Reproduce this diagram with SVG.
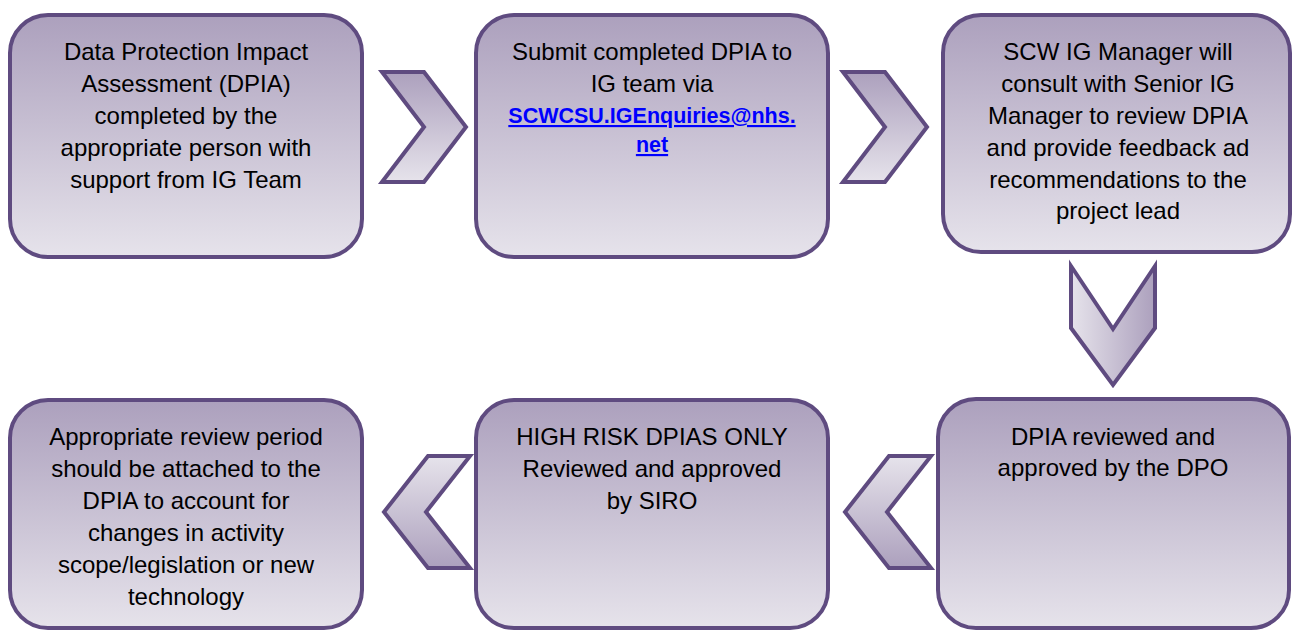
<svg xmlns="http://www.w3.org/2000/svg" width="1292" height="631" viewBox="0 0 1292 631">
  <defs>
    <linearGradient id="gBox" x1="0" y1="0" x2="0" y2="1">
      <stop offset="0" stop-color="#aca0bd"/>
      <stop offset="1" stop-color="#e6e3eb"/>
    </linearGradient>
    <linearGradient id="gUp" x1="0" y1="0" x2="0" y2="1">
      <stop offset="0" stop-color="#e6e3eb"/>
      <stop offset="1" stop-color="#aca0bd"/>
    </linearGradient>
    <linearGradient id="gSide" x1="0" y1="0" x2="1" y2="0">
      <stop offset="0" stop-color="#e6e3eb"/>
      <stop offset="1" stop-color="#aca0bd"/>
    </linearGradient>
    <style>
      .box { fill: url(#gBox); stroke: #5f4b80; stroke-width: 4; }
      .chev { stroke: #5f4b80; stroke-width: 4; stroke-linejoin: miter; }
      .t { font-family: "Liberation Sans", Arial, sans-serif; font-size: 24px; fill: #000; text-anchor: middle; }
      .link { font-family: "Liberation Sans", Arial, sans-serif; font-size: 21.5px; font-weight: bold; fill: #0000ff; text-anchor: middle; text-decoration: underline; }
    </style>
  </defs>

  <!-- connectors: chevron arrows between steps -->
  <g id="connectors">
    <polygon class="chev" fill="url(#gBox)" points="382,72 424,72 466,127 424,182 382,182 424,127"/>
    <polygon class="chev" fill="url(#gBox)" points="843,72 885,72 927,127 885,182 843,182 885,127"/>
    <polygon class="chev" fill="url(#gSide)" points="1071,266 1113,329 1155,266 1155,328 1113,385 1071,328"/>
    <polygon class="chev" fill="url(#gUp)" points="470,456 428,456 384,512 428,568 470,568 426,512"/>
    <polygon class="chev" fill="url(#gUp)" points="931,456 889,456 845,512 889,568 931,568 887,512"/>
  </g>

  <g id="step1">
    <rect class="box" x="10" y="15" width="352" height="242" rx="38" ry="38"/>
    <text class="t" x="186" y="60">Data Protection Impact</text>
    <text class="t" x="186" y="92">Assessment (DPIA)</text>
    <text class="t" x="186" y="124">completed by the</text>
    <text class="t" x="186" y="156">appropriate person with</text>
    <text class="t" x="186" y="188">support from IG Team</text>
  </g>

  <g id="step2">
    <rect class="box" x="476" y="15" width="352" height="242" rx="38" ry="38"/>
    <text class="t" x="652" y="60">Submit completed DPIA to</text>
    <text class="t" x="652" y="92">IG team via</text>
    <text class="link" x="652" y="123">SCWCSU.IGEnquiries@nhs.</text>
    <text class="link" x="652" y="152">net</text>
  </g>

  <g id="step3">
    <rect class="box" x="943" y="15" width="347" height="237" rx="38" ry="38"/>
    <text class="t" x="1118" y="60">SCW IG Manager will</text>
    <text class="t" x="1118" y="92">consult with Senior IG</text>
    <text class="t" x="1118" y="124">Manager to review DPIA</text>
    <text class="t" x="1118" y="156">and provide feedback ad</text>
    <text class="t" x="1118" y="188">recommendations to the</text>
    <text class="t" x="1118" y="219">project lead</text>
  </g>

  <g id="step4">
    <rect class="box" x="938" y="399" width="351" height="229" rx="38" ry="38"/>
    <text class="t" x="1113" y="445">DPIA reviewed and</text>
    <text class="t" x="1113" y="476">approved by the DPO</text>
  </g>

  <g id="step5">
    <rect class="box" x="476" y="400" width="352" height="228" rx="38" ry="38"/>
    <text class="t" x="652" y="445">HIGH RISK DPIAS ONLY</text>
    <text class="t" x="652" y="477">Reviewed and approved</text>
    <text class="t" x="652" y="509">by SIRO</text>
  </g>

  <g id="step6">
    <rect class="box" x="10" y="400" width="352" height="228" rx="38" ry="38"/>
    <text class="t" x="186" y="445">Appropriate review period</text>
    <text class="t" x="186" y="477">should be attached to the</text>
    <text class="t" x="186" y="509">DPIA to account for</text>
    <text class="t" x="186" y="541">changes in activity</text>
    <text class="t" x="186" y="573">scope/legislation or new</text>
    <text class="t" x="186" y="605">technology</text>
  </g>
</svg>
